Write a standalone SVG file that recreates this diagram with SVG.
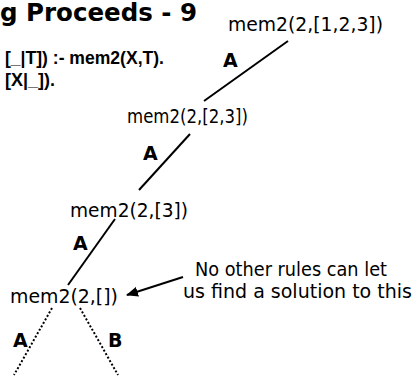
<svg xmlns="http://www.w3.org/2000/svg" width="417" height="376" viewBox="0 0 417 376">
<style>
.node{font-family:"DejaVu Sans",Verdana,sans-serif;font-size:20px;fill:#000}
.lbl{font-family:"DejaVu Sans",Verdana,sans-serif;font-size:19px;font-weight:bold;fill:#000}
.code{font-family:"Liberation Sans",Arial,sans-serif;font-size:19px;font-weight:bold;fill:#000}
.title{font-family:"DejaVu Sans",Verdana,sans-serif;font-size:24.5px;font-weight:bold;fill:#000}
.edge{stroke:#000;stroke-width:2;fill:none}
.dot{stroke:#000;stroke-width:2;fill:none;stroke-dasharray:2 2}
</style>
<defs>
<marker id="ah" markerWidth="12" markerHeight="10" refX="11" refY="5" orient="auto" markerUnits="userSpaceOnUse">
<path d="M0,0 L12,5 L0,10 Z" fill="#000"/>
</marker>
</defs>
<rect width="417" height="376" fill="#fff"/>
<text class="title" x="0" y="21">g Proceeds - 9</text>
<text class="code" x="5" y="64" textLength="159" lengthAdjust="spacingAndGlyphs">[_|T]) :- mem2(X,T).</text>
<text class="code" x="5" y="86" textLength="50" lengthAdjust="spacingAndGlyphs">[X|_]).</text>
<g id="connectors">
<line class="edge" x1="288" y1="41" x2="204" y2="101"/>
<line class="edge" x1="190" y1="134" x2="139" y2="190"/>
<line class="edge" x1="115" y1="219" x2="68" y2="285"/>
<line class="dot" x1="52" y1="308" x2="14" y2="375"/>
<line class="dot" x1="80" y1="308" x2="118" y2="375"/>
<line class="edge" x1="183" y1="277" x2="127" y2="295" marker-end="url(#ah)"/>
</g>
<g id="n1"><text class="node" x="228" y="31" textLength="155" lengthAdjust="spacingAndGlyphs">mem2(2,[1,2,3])</text></g>
<g id="n2"><text class="node" x="127" y="123" textLength="121" lengthAdjust="spacingAndGlyphs">mem2(2,[2,3])</text></g>
<g id="n3"><text class="node" x="70" y="217" textLength="118" lengthAdjust="spacingAndGlyphs">mem2(2,[3])</text></g>
<g id="n4"><text class="node" x="10" y="303" textLength="108" lengthAdjust="spacingAndGlyphs">mem2(2,[])</text></g>
<g id="note"><text class="node" x="195" y="276" textLength="192" lengthAdjust="spacingAndGlyphs">No other rules can let</text>
<text class="node" x="183" y="298" textLength="229" lengthAdjust="spacingAndGlyphs">us find a solution to this</text></g>
<g id="labels">
<text class="lbl" x="223" y="67">A</text>
<text class="lbl" x="143" y="160">A</text>
<text class="lbl" x="73" y="250">A</text>
<text class="lbl" x="13" y="347">A</text>
<text class="lbl" x="108" y="347">B</text>
</g>
</svg>
